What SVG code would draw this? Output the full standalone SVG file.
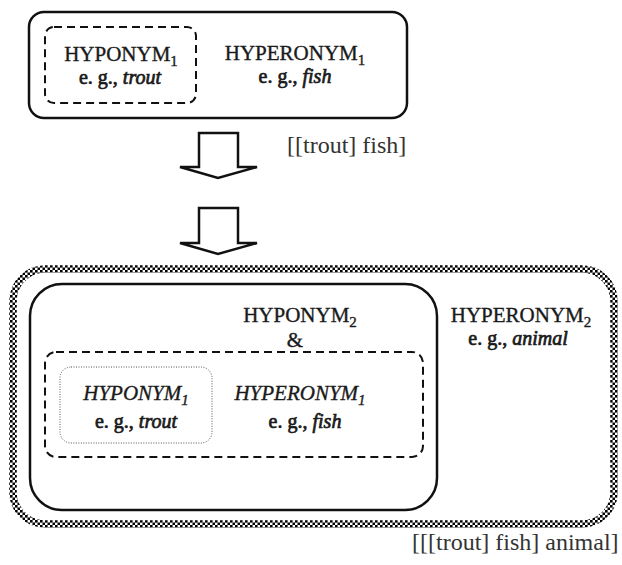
<svg xmlns="http://www.w3.org/2000/svg" width="622" height="565" viewBox="0 0 622 565">
  <defs>
    <!-- checkered fill used for the outermost border band -->
    <pattern id="checker" patternUnits="userSpaceOnUse" width="5" height="5">
      <rect x="0" y="0" width="5" height="5" fill="#fff"/>
      <rect x="0" y="0" width="2.6" height="2.6" fill="#000"/>
      <rect x="2.5" y="2.5" width="2.6" height="2.6" fill="#000"/>
    </pattern>
  </defs>
  <style>
    text { font-family: "Liberation Serif", "Times New Roman", serif; fill: #1a1a1a; text-anchor: middle; }
    .lbl { font-size: 21px; stroke: #1a1a1a; stroke-width: 0.35; }
    .eg { font-size: 20px; stroke: #1a1a1a; stroke-width: 0.7; }
    .it { font-style: italic; }
    .sub { font-size: 15px; }
    .bracket { font-size: 24px; fill: #333; text-anchor: start; }
    .solid { fill: none; stroke: #111; stroke-width: 2.5; }
    .dash { fill: none; stroke: #111; stroke-width: 2; stroke-dasharray: 8 5; }
    .dot { fill: none; stroke: #555; stroke-width: 1; stroke-dasharray: 1 1.5; }
    .arrow { fill: #fff; stroke: #111; stroke-width: 2.5; stroke-linejoin: miter; }
  </style>

  <rect width="622" height="565" fill="#fff"/>

  <!-- first compound: hyponym inside hyperonym -->
  <g id="compound1">
    <rect class="solid" x="29" y="12" width="378" height="106" rx="15"/>
    <g id="hyponym1-top">
      <rect class="dash" x="45" y="27" width="151" height="76" rx="9"/>
      <text class="lbl" x="121" y="61">HYPONYM<tspan class="sub" dy="5">1</tspan></text>
      <text class="eg" x="120" y="84">e. g., <tspan class="it">trout</tspan></text>
    </g>
    <g id="hyperonym1-top">
      <text class="lbl" x="295" y="60">HYPERONYM<tspan class="sub" dy="5">1</tspan></text>
      <text class="eg" x="295" y="83">e. g., <tspan class="it">fish</tspan></text>
    </g>
  </g>

  <text class="bracket" x="287" y="153">[[trout] fish]</text>

  <!-- transition arrows -->
  <g id="connectors">
    <polygon class="arrow" points="199,133 238,133 238,167 257,167 218,178 180,167 199,167"/>
    <polygon class="arrow" points="199,208 238,208 238,243 257,243 218,254 180,243 199,243"/>
  </g>

  <!-- second compound: outer hyperonym with checkered border -->
  <g id="compound2">
    <rect x="13" y="269" width="601" height="255" rx="32" fill="none" stroke="url(#checker)" stroke-width="7.5"/>
    <g id="hyponym2">
      <rect class="solid" x="30" y="284" width="407" height="226" rx="32"/>
      <text class="lbl" x="300" y="322">HYPONYM<tspan class="sub" dy="5">2</tspan></text>
      <text class="lbl" x="295" y="347">&amp;</text>
      <g id="inner-compound">
        <rect class="dash" x="45" y="352" width="378" height="105" rx="11"/>
        <g id="hyponym1-bottom">
          <rect class="dot" x="60" y="367" width="152" height="76" rx="11"/>
          <text class="lbl it" x="136" y="400">HYPONYM<tspan class="sub" dy="5">1</tspan></text>
          <text class="eg" x="136" y="428">e. g., <tspan class="it">trout</tspan></text>
        </g>
        <g id="hyperonym1-bottom">
          <text class="lbl it" x="300" y="400">HYPERONYM<tspan class="sub" dy="5">1</tspan></text>
          <text class="eg" x="305" y="428">e. g., <tspan class="it">fish</tspan></text>
        </g>
      </g>
    </g>
    <g id="hyperonym2">
      <text class="lbl" x="521" y="322">HYPERONYM<tspan class="sub" dy="5">2</tspan></text>
      <text class="eg" x="518" y="345">e. g., <tspan class="it">animal</tspan></text>
    </g>
  </g>

  <text class="bracket" x="412" y="550">[[[trout] fish] animal]</text>
</svg>
